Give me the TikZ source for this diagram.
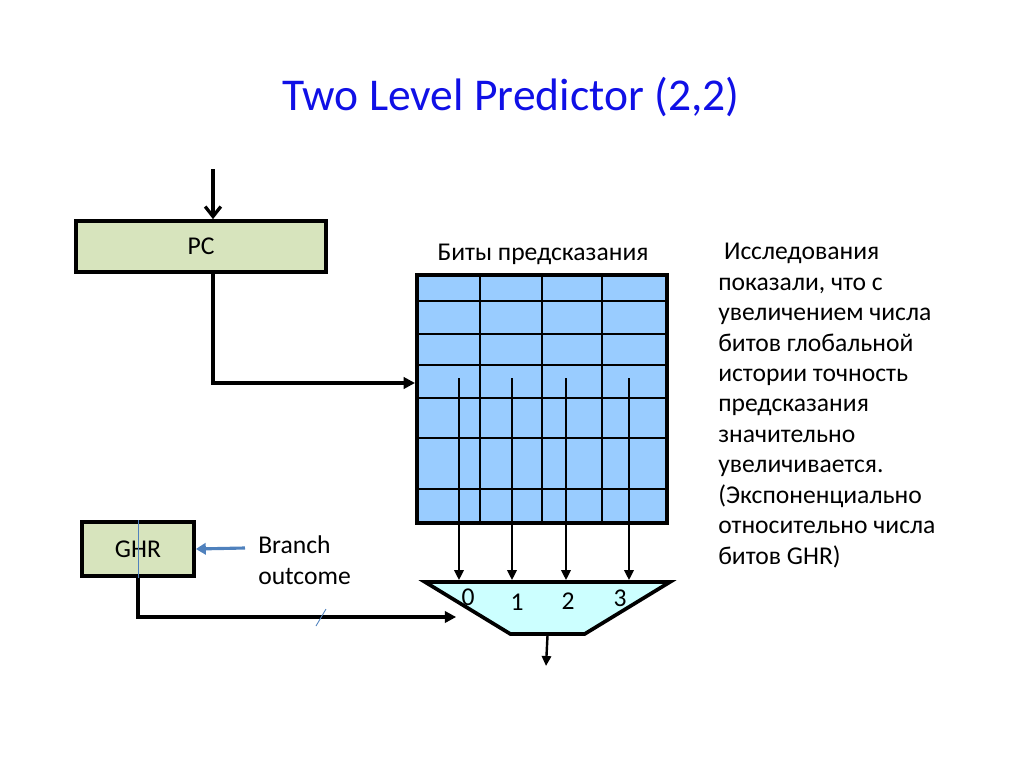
\documentclass[tikz,border=0pt]{standalone}
\usepackage{fontspec}
\setmainfont{Carlito}
\usetikzlibrary{arrows.meta,shapes.geometric}

\newcommand{\pxl}{0.703pt}
\definecolor{regfill}{HTML}{D7E4BD}
\definecolor{tablefill}{HTML}{99CCFF}
\definecolor{muxfill}{HTML}{CCFFFF}
\definecolor{titleblue}{HTML}{1010E6}
\definecolor{hintblue}{HTML}{4F81BD}

\tikzset{
    reg/.style={draw, line width=2.6pt, fill=regfill, inner sep=0pt},
    predtable/.style={draw, line width=2.8pt, fill=tablefill, inner sep=0pt},
    gridline/.style={line width=1.3pt},
    mux/.style={draw, line width=2.6pt, fill=muxfill, inner sep=2pt,
        shape=trapezium, trapezium stretches=true, trapezium angle=41,
        shape border rotate=180},
    wire/.style={line width=2.3pt, -{Triangle[length=8pt,width=8pt]}},
    colarrow/.style={line width=1.7pt, -{Triangle[length=7pt,width=6.5pt]}},
    openarrow/.style={line width=2.3pt, -{Straight Barb[length=7pt,width=11pt]}},
    hint/.style={hintblue, line width=0.6pt},
    hintarrow/.style={hintblue, line width=2.2pt, -{Triangle[length=7pt,width=8pt]}}
}

\begin{document}
\begin{tikzpicture}[x=0.703pt, y=-0.703pt, font=\fontsize{18}{21.4}\selectfont]
    \useasboundingbox (0,0) rectangle (1024,767);

    % Title
    \node[text=titleblue, font=\fontsize{32}{38}\selectfont] (title) at (511,97) {Two Level Predictor (2,2)};

    % Registers
    \node[reg, minimum width=250*\pxl, minimum height=51*\pxl] (pc) at (201,246.5) {PC};
    \node[reg, minimum width=112*\pxl, minimum height=54*\pxl] (ghr) at (138,549) {GHR};
    \draw[hint] (ghr.north) -- (ghr.south);

    % Prediction table
    \node[predtable, minimum width=250*\pxl, minimum height=248*\pxl] (tbl) at (542,399) {};
    \foreach \y in {301,334,365,398,438,489}
        \draw[gridline] (tbl.west |- 0,\y) -- (tbl.east |- 0,\y);
    \foreach \x in {480,542,602}
        \draw[gridline] (tbl.north -| \x,0) -- (tbl.south -| \x,0);
    \node (tbltitle) at (543,254) {Биты предсказания};

    % Multiplexer
    \node[mux, minimum width=245*\pxl, minimum height=52*\pxl] (mux) at (547.5,608) {};
    \foreach \x/\y/\d in {468/597/0,517/602/1,568/601/2,620/598/3}
        \node (in\d) at (\x,\y) {\d};

    % Column read-out
    \foreach \x/\d in {459/0,512/1,566/2,629/3} {
        \coordinate (col\d) at (\x,378);
        \draw[colarrow] (col\d) -- (col\d |- mux.north);
    }
    \coordinate (muxout) at (546,666);
    \draw[colarrow] (mux.south) -- (muxout);

    % PC index
    \coordinate (pcin) at (213,169);
    \draw[openarrow] (pcin) -- (pcin |- pc.north);
    \coordinate (pcdrop) at (213,383);
    \draw[wire] (pcdrop |- pc.south) -- (pcdrop) -- (pcdrop -| tbl.west);

    % GHR select
    \draw[wire] (ghr.south) |- ([xshift=-8*\pxl, yshift=-9*\pxl]mux.west);
    \draw[hint] (316,626) -- (326,609);

    % Branch outcome
    \coordinate (brin) at (245,548);
    \draw[hintarrow] (brin) -- (ghr.east);
    \node[anchor=west, align=left, inner sep=0pt] (branch) at (258,560) {Branch\\outcome};

    % Notes
    \node[anchor=north west, align=left, inner sep=0pt] (notes) at (718,243)
        {\ Исследования\\показали, что с\\увеличением числа\\битов глобальной\\истории точность\\предсказания\\значительно\\увеличивается.\\(Экспоненциально\\относительно числа\\битов GHR)};
\end{tikzpicture}
\end{document}
